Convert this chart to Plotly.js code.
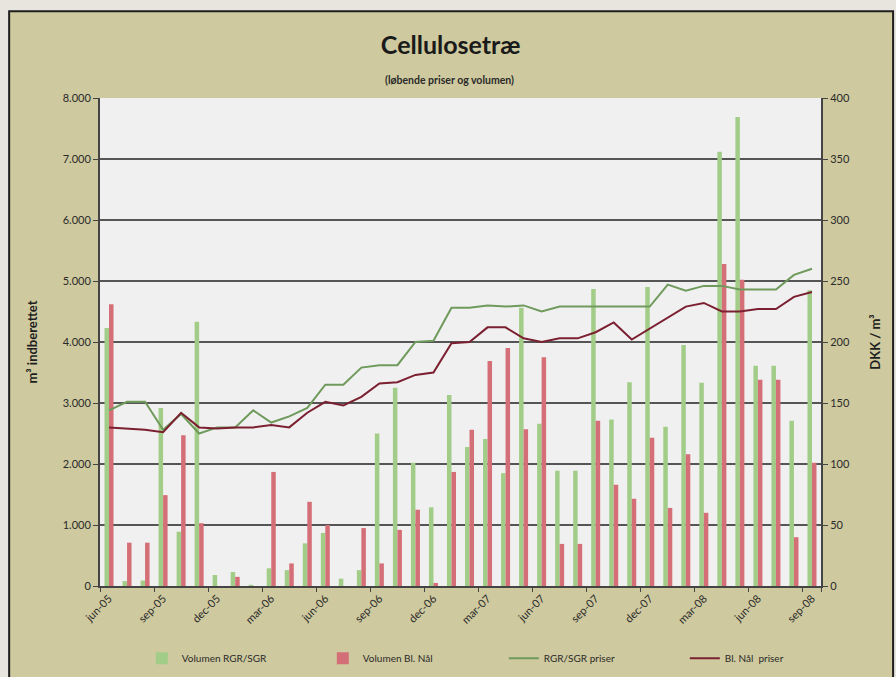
<!DOCTYPE html>
<html>
<head>
<meta charset="utf-8">
<script src="https://cdn.plot.ly/plotly-3.0.1.min.js"></script>
<style>html,body{margin:0;padding:0;background:#e7e5de;}#chart{width:896px;height:677px;}</style>
</head>
<body>
<div id="chart"></div>
<script>
const months = ["jun-05","jul-05","aug-05","sep-05","okt-05","nov-05","dec-05","jan-06","feb-06","mar-06","apr-06","maj-06",
"jun-06","jul-06","aug-06","sep-06","okt-06","nov-06","dec-06","jan-07","feb-07","mar-07","apr-07","maj-07",
"jun-07","jul-07","aug-07","sep-07","okt-07","nov-07","dec-07","jan-08","feb-08","mar-08","apr-08","maj-08",
"jun-08","jul-08","aug-08","sep-08"];

const volRGR = [4230,80,90,2920,890,4330,180,230,20,290,260,700,
870,120,260,2500,3250,2020,1290,3130,2280,2410,1850,4560,
2660,1890,1890,4870,2730,3340,4900,2610,3950,3330,7120,7690,
3610,3610,2710,4850];

const volBlNaal = [4620,710,710,1490,2470,1030,0,150,0,1870,370,1380,
1000,0,950,370,920,1250,50,1870,2560,3690,3900,2570,
3750,690,690,2710,1660,1430,2430,1280,2160,1200,5280,5020,
3380,3380,800,2020];

const prisRGR = [144,151,151,128,141,125,130,130,144,134,139,146,
165,165,179,181,181,200,201,228,228,230,229,230,
225,229,229,229,229,229,229,247,242,246,246,243,
243,243,255,260];

const prisBlNaal = [130,129,128,126,142,130,129,130,130,132,130,142,
151,148,155,166,167,173,175,199,200,212,212,203,
200,203,203,208,216,202,211,220,229,232,225,225,
227,227,237,241];

const tickMonths = months.filter((m,i)=>i%3===0);

const FONT = "Lato, 'Open Sans', sans-serif";

const traces = [
  {type:'bar', name:'Volumen RGR/SGR', x:months, y:volRGR, marker:{color:'#a2cd88'}, yaxis:'y'},
  {type:'bar', name:'Volumen Bl. Nål', x:months, y:volBlNaal, marker:{color:'#d56f77'}, yaxis:'y'},
  {type:'scatter', mode:'lines', name:'RGR/SGR priser', x:months, y:prisRGR, line:{color:'#6f9a5c', width:2}, yaxis:'y2'},
  {type:'scatter', mode:'lines', name:'Bl. Nål  priser', x:months, y:prisBlNaal, line:{color:'#7b2030', width:2}, yaxis:'y2'}
];

const layout = {
  width:896, height:677,
  margin:{l:100, r:75, t:98, b:91, autoexpand:false},
  paper_bgcolor:'#e7e5de',
  plot_bgcolor:'rgba(0,0,0,0)',
  separators:',.',
  font:{family:FONT, color:'#2a2a2a', size:11},
  barmode:'group', bargap:0.5, bargroupgap:0,
  showlegend:true,
  legend:{orientation:'h', x:0.058, xanchor:'left', y:-0.148, yanchor:'middle',
          entrywidth:136, entrywidthmode:'pixels',
          font:{size:10, color:'#2a2a2a', family:FONT}, bgcolor:'rgba(0,0,0,0)', traceorder:'normal'},
  title:{text:'<b>Cellulosetræ</b>', x:0.503, xanchor:'center', y:0.933, yanchor:'middle',
         font:{size:25, color:'#1a1a1a', family:FONT}},
  xaxis:{type:'category', categoryorder:'array', categoryarray:months,
         tickmode:'array', tickvals:tickMonths, ticktext:tickMonths, tickangle:-45,
         ticks:'outside', tickson:'boundaries', ticklen:4, tickcolor:'#444',
         showline:true, linecolor:'#444', linewidth:2, showgrid:false,
         tickfont:{size:11, color:'#2a2a2a', family:FONT}},
  yaxis:{range:[0,8000], dtick:1000, tickformat:',d', showgrid:true, gridcolor:'#555', gridwidth:2,
         showline:true, linecolor:'#444', linewidth:2, ticks:'outside', ticklen:5, tickcolor:'#444',
         zeroline:false, tickfont:{size:11, color:'#2a2a2a', family:FONT},
         title:{text:'<b>m³ indberettet</b>', font:{size:13, color:'#1e1e1e', family:FONT}, standoff:22}},
  yaxis2:{range:[0,400], dtick:50, overlaying:'y', side:'right', showgrid:false,
          showline:true, linecolor:'#444', linewidth:2, ticks:'outside', ticklen:5, tickcolor:'#444',
          zeroline:false, tickfont:{size:11, color:'#2a2a2a', family:FONT},
          title:{text:'<b>DKK / m³</b>', font:{size:13, color:'#1e1e1e', family:FONT}, standoff:22}},
  annotations:[
    {text:'<b>(løbende priser og volumen)</b>', xref:'paper', yref:'paper', x:0.485, y:1.053,
     showarrow:false, font:{size:10.5, color:'#2a2a2a', family:FONT}}
  ],
  shapes:[
    {type:'rect', xref:'paper', yref:'paper', x0:-0.126, x1:1.1, y0:-0.22, y1:1.178,
     fillcolor:'#cec99e', line:{color:'#1e1e1e', width:2}, layer:'below'},
    {type:'rect', xref:'paper', yref:'paper', x0:0, x1:1, y0:0, y1:1,
     fillcolor:'#f0f0f0', line:{width:0}, layer:'below'}
  ]
};

Plotly.newPlot('chart', traces, layout, {displayModeBar:false, staticPlot:true});
</script>
</body>
</html>
